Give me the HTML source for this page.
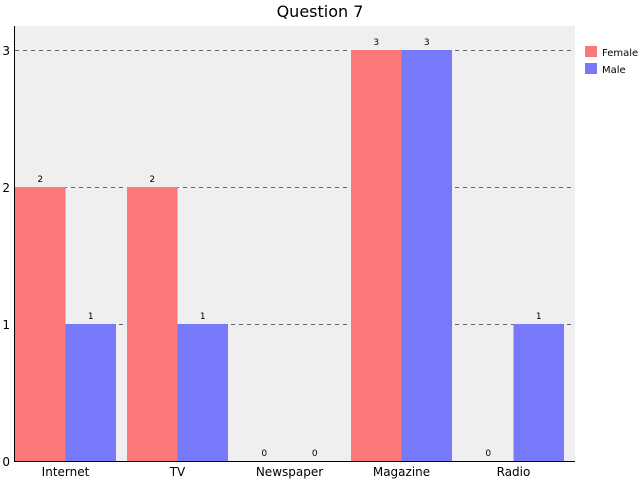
<!DOCTYPE html>
<html><head><meta charset="utf-8"><style>
body{margin:0;background:#fff;}
svg{display:block;font-family:"DejaVu Sans","Liberation Sans",sans-serif;}
</style></head><body>
<svg id="chart" width="640" height="480">
<text x="320" y="17" text-anchor="middle" font-size="16" fill="#000">Question 7</text>
<rect x="15" y="26" width="560" height="435" fill="#efefef"/>
<g id="grid"></g><g id="bars"></g><g id="labels"></g>
<line x1="14.5" y1="26" x2="14.5" y2="461" stroke="#000"/>
<line x1="14" y1="461.5" x2="575" y2="461.5" stroke="#000"/>
<g>
<rect x="585" y="46" width="12" height="11" fill="#fa7878"/>
<text x="602" y="56" font-size="10">Female</text>
<rect x="585" y="63" width="12" height="11" fill="#7878fa"/>
<text x="602" y="73" font-size="10">Male</text>
</g>
</svg>
<script>
const categories=["Internet","TV","Newspaper","Magazine","Radio"];
const female=[2,2,0,3,0];
const male=[1,1,0,3,1];
const yTicks=[0,1,2,3];
const NS="http://www.w3.org/2000/svg";
const x0=15,catW=112,barW=50.5,yBase=461,unit=137;
function y(v){return yBase-v*unit;}
function mk(tag,attrs,parent){const e=document.createElementNS(NS,tag);for(const k in attrs)e.setAttribute(k,attrs[k]);document.getElementById(parent).appendChild(e);return e;}
yTicks.forEach(t=>{
  if(t>0){const l=mk("line",{x1:15,x2:575,y1:y(t)+0.5,y2:y(t)+0.5,stroke:"#666","stroke-dasharray":"4,4"},"grid");
  
  }
  const tx=mk("text",{x:10,y:y(t)+5,"text-anchor":"end","font-size":"12"},"labels");tx.textContent=t;
  
  
});
categories.forEach((c,i)=>{
  const gx=x0+i*catW;
  [[female,"#fa7878","female",0],[male,"#7878fa","male",1]].forEach(([arr,col,nm,k])=>{
    const v=arr[i],bx=gx+k*barW;
    const r=mk("rect",{x:bx,y:y(v),width:barW,height:v*unit,fill:col},"bars");
    
    
    const t=mk("text",{x:bx+barW/2,y:y(v)-5,"text-anchor":"middle","font-size":"9"},"labels");t.textContent=v;
    
    
  });
  const lt=mk("text",{x:gx+barW,y:476,"text-anchor":"middle","font-size":"12"},"labels");lt.textContent=c;
  
  
});
</script>
</body></html>
